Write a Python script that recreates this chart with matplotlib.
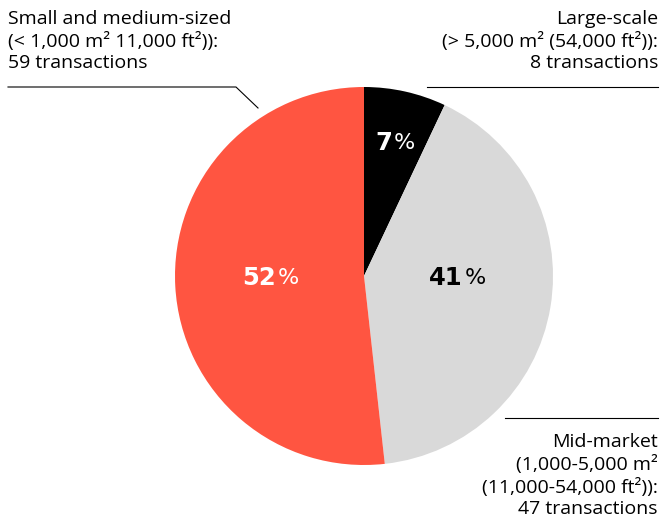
import matplotlib.pyplot as plt

# datos
categorias = ['Large-scale', 'Mid-market', 'Small and medium-sized']
transacciones = [8, 47, 59]
porcentajes = ['7', '41', '52']
colores = ['#000000', '#d9d9d9', '#ff5541']
etiquetas = ['Large-scale\n(> 5,000 m\u00b2 (54,000 ft\u00b2)):\n8 transactions',
             'Mid-market\n(1,000-5,000 m\u00b2\n(11,000-54,000 ft\u00b2)):\n47 transactions',
             'Small and medium-sized\n(< 1,000 m\u00b2 11,000 ft\u00b2)):\n59 transactions']

W, H = 661, 519
fig = plt.figure(figsize=(W/100, H/100), dpi=100)
ax = fig.add_axes([0, 0, 1, 1])

cx, cy, r = 364, H-276, 189
ax.pie(transacciones, colors=colores, startangle=90, counterclock=False,
       center=(cx, cy), radius=r, frame=True,
       wedgeprops={'linewidth': 0})
ax.set_xlim(0, W)
ax.set_ylim(0, H)
ax.set_aspect('equal')
ax.axis('off')

fuente = 'Open Sans'
# etiquetas de porcentaje
pos_pct = [(392, 143), (463, 278), (276, 278)]
col_pct = ['white', 'black', 'white']
for (x, y), p, c in zip(pos_pct, porcentajes, col_pct):
    ax.text(x, H-y, p, ha='right', va='center', fontsize=17.5, fontweight='bold',
            color=c, family='DejaVu Sans')
    ax.text(x+2, H-y, '%', ha='left', va='center', fontsize=16,
            color=c, family='DejaVu Sans')

# textos
kw = dict(fontsize=14, family=fuente, linespacing=1.24)
ax.text(8, H-10, etiquetas[2], ha='left', va='top', **kw)
ax.text(658, H-10, etiquetas[0], ha='right', va='top', **kw)
ax.text(658, 1, etiquetas[1], ha='right', va='bottom', **kw)

# lineas guia
ax.plot([8, 236, 258], [H-87, H-87, H-108], color='black', lw=0.8)
ax.plot([427, 658], [H-87, H-87], color='black', lw=0.8)
ax.plot([505, 658], [H-418, H-418], color='black', lw=0.8)

fig.savefig('out.png', dpi=100)
